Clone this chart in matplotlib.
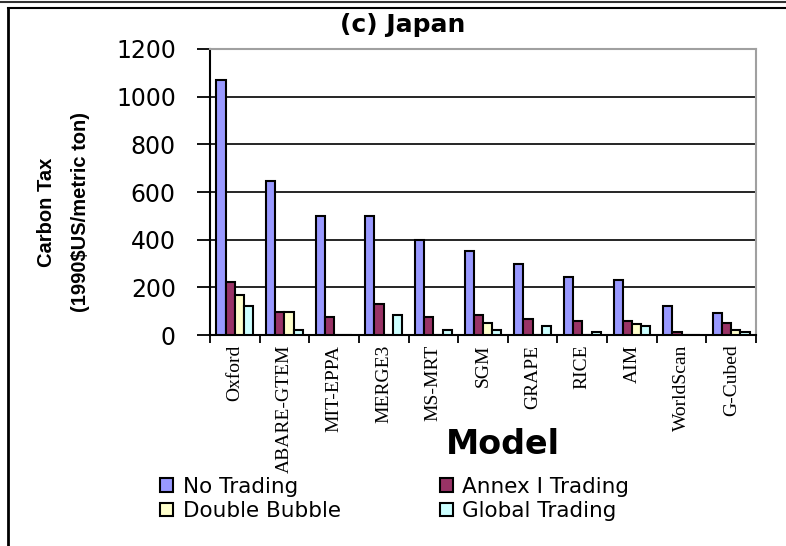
import matplotlib.pyplot as plt
import numpy as np
from matplotlib.lines import Line2D

models = ["Oxford", "ABARE-GTEM", "MIT-EPPA", "MERGE3", "MS-MRT", "SGM",
          "GRAPE", "RICE", "AIM", "WorldScan", "G-Cubed"]
no_trading = [1070, 646, 499, 499, 399, 352, 298, 245, 231, 122, 91]
annex_i = [221, 98, 76, 129, 76, 83, 67, 59, 59, 13, 52]
double_bubble = [166, 98, 0, 0, 0, 52, 0, 0, 45, 0, 21]
global_trading = [123, 22, 0, 83, 20, 21, 38, 13, 38, 0, 13]

series = [
    ("No Trading", no_trading, "#9999FF"),
    ("Annex I Trading", annex_i, "#993366"),
    ("Double Bubble", double_bubble, "#FFFFCC"),
    ("Global Trading", global_trading, "#CCFFFF"),
]

fig = plt.figure(figsize=(7.86, 5.46), dpi=100)
ax = fig.add_axes([0.267, 0.3864, 0.695, 0.5239])

x = np.arange(len(models))
w = 0.185
handles = []
for i, (name, vals, col) in enumerate(series):
    b = ax.bar(x + (i - 1.5) * w, vals, w, color=col, edgecolor="black",
               linewidth=1.5, label=name, zorder=3)
    handles.append(b)

ax.set_xlim(-0.5, len(models) - 0.5)
ax.set_ylim(0, 1200)
ax.set_yticks(range(0, 1201, 200))
ax.yaxis.grid(True, color="black", linewidth=1.2, zorder=0)
ax.set_axisbelow(True)

# category boundary ticks, labels at centres
ax.set_xticks(x)
ax.set_xticklabels(models, rotation=90, fontfamily="Liberation Serif", fontsize=14)
ax.set_xticks(np.arange(-0.5, len(models), 1), minor=True)
ax.tick_params(axis="x", which="major", length=0, pad=7)
ax.tick_params(axis="x", which="minor", length=6, width=1.3, direction="out")
ax.tick_params(axis="y", length=9.5, width=1.3, pad=15, labelsize=17)

for s in ["top", "right"]:
    ax.spines[s].set_color("#a0a0a0")
    ax.spines[s].set_linewidth(1.5)
for s in ["left", "bottom"]:
    ax.spines[s].set_color("black")
    ax.spines[s].set_linewidth(1.5)

fig.text(403 / 786, 1 - 25 / 546, "(c) Japan", ha="center", va="center",
         fontsize=18, fontweight="bold")
fig.text(503 / 786, 1 - 445 / 546, "Model", ha="center", va="center",
         fontsize=24, fontweight="bold")
fig.text(46 / 786, 1 - 212 / 546, "Carbon Tax", rotation=90, ha="center",
         va="center", fontsize=14.5, fontweight="bold", fontfamily="Liberation Sans")
fig.text(81 / 786, 1 - 212 / 546, "(1990$US/metric ton)", rotation=90,
         ha="center", va="center", fontsize=14.5, fontweight="bold",
         fontfamily="Liberation Sans")

# legend is filled row by row in the reference
order = [0, 2, 1, 3]
fig.legend(handles=[handles[k] for k in order], ncol=2, loc="center left",
           bbox_to_anchor=(160 / 786, 1 - 499 / 546), frameon=False,
           fontsize=15.5, handlelength=0.6, handleheight=0.6,
           handletextpad=0.45, columnspacing=4.6, labelspacing=0.2,
           borderpad=0, borderaxespad=0)

# outer frame lines
fig.add_artist(Line2D([0, 1], [1 - 2 / 546, 1 - 2 / 546], color="#333333",
                      linewidth=1.5, transform=fig.transFigure))
fig.add_artist(Line2D([8 / 786, 1], [1 - 8 / 546, 1 - 8 / 546], color="black",
                      linewidth=1.5, transform=fig.transFigure))
fig.add_artist(Line2D([8 / 786, 8 / 786], [0, 1 - 8 / 546], color="black",
                      linewidth=2, transform=fig.transFigure))

fig.savefig("out.png", dpi=100)
